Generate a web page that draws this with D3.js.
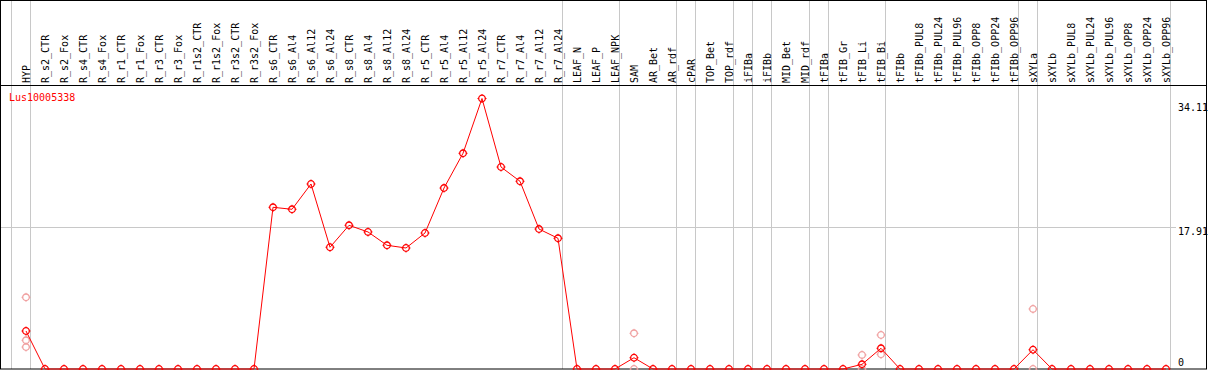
<!DOCTYPE html>
<html lang="en">
<head>
<meta charset="utf-8">
<title>Lus10005338</title>
<script src="https://d3js.org/d3.v7.min.js"></script>
<style>
  body { margin: 0; background: #fff; }
  text { font-family: "DejaVu Sans Mono", monospace; font-size: 10px; }
</style>
</head>
<body>
<script>
var w = 1209, h = 370;

var categories = ["HYP",
  "R_s2_CTR","R_s2_Fox","R_s4_CTR","R_s4_Fox","R_r1_CTR","R_r1_Fox","R_r3_CTR","R_r3_Fox",
  "R_r1s2_CTR","R_r1s2_Fox","R_r3s2_CTR","R_r3s2_Fox",
  "R_s6_CTR","R_s6_Al4","R_s6_Al12","R_s6_Al24","R_s8_CTR","R_s8_Al4","R_s8_Al12","R_s8_Al24",
  "R_r5_CTR","R_r5_Al4","R_r5_Al12","R_r5_Al24","R_r7_CTR","R_r7_Al4","R_r7_Al12","R_r7_Al24",
  "LEAF_N","LEAF_P","LEAF_NPK","SAM","AR_Bet","AR_rdf","cPAR","TOP_Bet","TOP_rdf",
  "iFIBa","iFIBb","MID_Bet","MID_rdf","tFIBa","tFIB_Gr","tFIB_Li","tFIB_Bi",
  "tFIBb","tFIBb_PUL8","tFIBb_PUL24","tFIBb_PUL96","tFIBb_OPP8","tFIBb_OPP24","tFIBb_OPP96",
  "sXYLa","sXYLb","sXYLb_PUL8","sXYLb_PUL24","sXYLb_PUL96","sXYLb_OPP8","sXYLb_OPP24","sXYLb_OPP96"];

// number of samples in each tissue group (separated by gray lines)
var groupSizes = [1, 28, 3, 3, 1, 2, 1, 1, 2, 1, 3, 7, 1, 7];

var meanValues = [4.79,
  0,0,0,0,0,0,0,0,0,0,0,0,
  20.39,20.14,23.33,15.35,18.12,17.28,15.6,15.26,
  17.15,22.82,27.2,34.11,25.47,23.67,17.65,16.48,
  0,0,0,1.42,0,0,0,0,0,
  0,0,0,0,0,0,0.59,2.61,
  0,0,0,0,0,0,0,
  2.43,0,0,0,0,0,0,0];

// individual replicates (faint circles)
var repCategories = ["HYP","HYP","HYP","SAM","SAM","tFIB_Li","tFIB_Li","tFIB_Bi","tFIB_Bi","sXYLa","sXYLa"];
var repValues     = [9.04, 3.62, 2.77, 4.5, 0, 1.77, 0, 4.29, 1.85, 7.57, 0];

var yTicks = [0, 17.91, 34.11];
var geneName = "Lus10005338";

var svg = d3.select("body").append("svg")
  .attr("width", w)
  .attr("height", h);

var x = d3.scalePoint()
  .domain(categories)
  .range([26, 1166]);

var y = d3.scaleLinear()
  .domain([0, 34.11])
  .range([369, 98.5]);

var step = x.step();

// group separators
var sepX = [x(categories[0]) - step + 4];
var acc = 0;
groupSizes.forEach(function(n) {
  acc += n;
  sepX.push(x(categories[acc - 1]) + 4);
});

svg.selectAll(".sep")
  .data(sepX)
  .enter().append("line")
  .attr("class", "sep")
  .attr("x1", function(d) { return Math.round(d) + 0.5; })
  .attr("x2", function(d) { return Math.round(d) + 0.5; })
  .attr("y1", 0)
  .attr("y2", 369)
  .style("stroke", "#c8c8c8");

// mid grid line
svg.append("line")
  .attr("x1", 1).attr("x2", 1176)
  .attr("y1", Math.round(y(17.91)) + 0.5)
  .attr("y2", Math.round(y(17.91)) + 0.5)
  .style("stroke", "#c8c8c8");

// frame
svg.append("rect")
  .attr("x", 0.5).attr("y", 0.5)
  .attr("width", 1206).attr("height", 368.5)
  .style("fill", "none")
  .style("stroke", "#000");

svg.append("line")
  .attr("x1", 0).attr("x2", 1207)
  .attr("y1", 85.5).attr("y2", 85.5)
  .style("stroke", "#000");

// column labels
svg.selectAll(".lab")
  .data(categories)
  .enter().append("text")
  .attr("class", "lab")
  .attr("transform", function(d) { return "translate(" + (x(d) + 4) + ",83)rotate(-90)"; })
  .attr("text-anchor", "start")
  .style("fill", "#000")
  .text(function(d) { return d; });

// y labels
var dyMap = {0: -3, 17.91: 8.5, 34.11: 12.5};
svg.selectAll(".ylab")
  .data(yTicks)
  .enter().append("text")
  .attr("class", "ylab")
  .attr("x", 1178)
  .attr("y", function(d) { return y(d) + dyMap[d]; })
  .style("fill", "#000")
  .text(function(d) { return d; });

svg.append("text")
  .attr("x", 9)
  .attr("y", 101)
  .style("fill", "#ff0000")
  .text(geneName);

function marker(sel, color) {
  sel.append("circle")
    .attr("r", 3.3)
    .style("fill", "none")
    .style("stroke", color)
    .style("stroke-width", 1.3);
  sel.append("path")
    .attr("d", "M-4.5,0H-3M3,0H4.5M0,-4.5V-3M0,3V4.5")
    .style("stroke", color)
    .style("stroke-width", 1);
}

// replicates
var reps = repCategories.map(function(c, i) { return {c: c, v: repValues[i]}; });
svg.selectAll(".rep")
  .data(reps)
  .enter().append("g")
  .attr("class", "rep")
  .attr("transform", function(d) { return "translate(" + x(d.c) + "," + y(d.v) + ")"; })
  .call(marker, "#f0a0a0");

// mean line
var line = d3.line()
  .x(function(d, i) { return x(categories[i]); })
  .y(function(d) { return y(d); });

svg.append("path")
  .datum(meanValues)
  .attr("d", line)
  .style("fill", "none")
  .style("stroke", "#ff0000")
  .style("stroke-width", 1);

svg.selectAll(".pt")
  .data(meanValues)
  .enter().append("g")
  .attr("class", "pt")
  .attr("transform", function(d, i) { return "translate(" + x(categories[i]) + "," + y(d) + ")"; })
  .call(marker, "#ff0000");
</script>
</body>
</html>
